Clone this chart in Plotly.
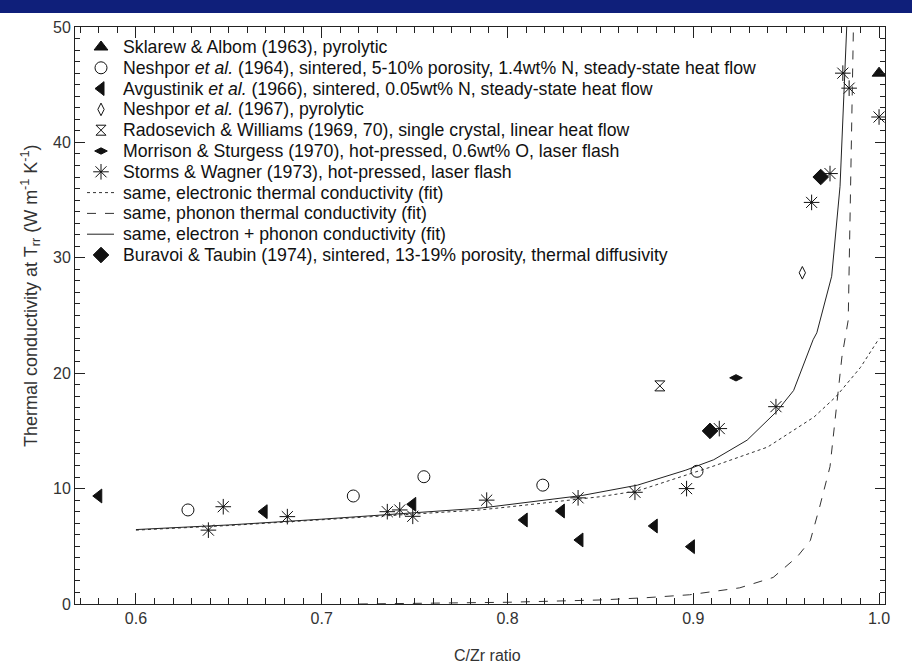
import plotly.graph_objects as go

# ---------------- data ----------------
sklarew_x = [1.0]
sklarew_y = [46.0]

neshpor64_x = [0.628, 0.717, 0.755, 0.819, 0.902]
neshpor64_y = [8.15, 9.36, 11.03, 10.3, 11.5]

avgustinik_x = [0.580, 0.669, 0.749, 0.809, 0.829, 0.839, 0.879, 0.899]
avgustinik_y = [9.36, 8.0, 8.64, 7.28, 8.06, 5.55, 6.76, 4.97]

neshpor67_x = [0.9587]
neshpor67_y = [28.7]

radosevich_x = [0.882]
radosevich_y = [18.9]

morrison_x = [0.923]
morrison_y = [19.6]

storms_x = [0.639, 0.647, 0.6815, 0.7353, 0.742, 0.749, 0.7888, 0.838, 0.8686,
            0.8964, 0.914, 0.9445, 0.9637, 0.9736, 0.9805, 0.9839, 1.0]
storms_y = [6.4, 8.43, 7.57, 8.0, 8.15, 7.6, 9.0, 9.2, 9.68,
            10.0, 15.2, 17.1, 34.8, 37.3, 46.0, 44.7, 42.2]

elec_x = [0.6, 0.65, 0.7, 0.75, 0.785, 0.8, 0.85, 0.87, 0.893, 0.91, 0.94, 0.965, 0.977, 0.99, 1.0]
elec_y = [6.4, 6.8, 7.3, 7.8, 8.15, 8.4, 9.3, 9.8, 11.0, 11.9, 13.6, 16.2, 18.0, 20.5, 23.0]

phonon_x = [0.72, 0.75, 0.8, 0.85, 0.875, 0.898, 0.925, 0.943, 0.956, 0.963, 0.968,
            0.9736, 0.976, 0.98, 0.9834, 0.9847, 0.9862]
phonon_y = [0.0, 0.05, 0.15, 0.35, 0.55, 0.8, 1.4, 2.3, 4.1, 5.5, 8.4,
            11.9, 15.7, 21.4, 24.6, 36.2, 50.0]

total_x = [0.6, 0.65, 0.7, 0.75, 0.785, 0.84, 0.87, 0.896, 0.911, 0.929, 0.945, 0.954,
           0.9645, 0.9665, 0.9745, 0.979, 0.9826]
total_y = [6.45, 6.85, 7.35, 7.9, 8.3, 9.4, 10.3, 11.6, 12.5, 14.2, 16.7, 18.5,
           22.9, 23.5, 28.4, 36.2, 50.0]

buravoi_x = [0.909, 0.9686]
buravoi_y = [15.0, 37.0]

x_ticks = [0.6, 0.7, 0.8, 0.9, 1.0]
x_ticklabels = ["0.6", "0.7", "0.8", "0.9", "1.0"]
y_ticks = [0, 10, 20, 30, 40, 50]
y_ticklabels = ["0", "10", "20", "30", "40", "50"]

legend_names = [
    "Sklarew &amp; Albom (1963), pyrolytic",
    "Neshpor <i>et al.</i> (1964), sintered, 5-10% porosity, 1.4wt% N, steady-state heat flow",
    "Avgustinik <i>et al.</i> (1966), sintered, 0.05wt% N, steady-state heat flow",
    "Neshpor <i>et al.</i> (1967), pyrolytic",
    "Radosevich &amp; Williams (1969, 70), single crystal, linear heat flow",
    "Morrison &amp; Sturgess (1970), hot-pressed, 0.6wt% O, laser flash",
    "Storms &amp; Wagner (1973), hot-pressed, laser flash",
    "same, electronic thermal conductivity (fit)",
    "same, phonon thermal conductivity (fit)",
    "same, electron + phonon conductivity (fit)",
    "Buravoi &amp; Taubin (1974), sintered, 13-19% porosity, thermal diffusivity",
]

# ---------------- styling ----------------
BLK = "#111111"
FONT = "Liberation Sans, Arial, sans-serif"
W, H = 912, 671
ML, MR, MT, MB = 75, 27, 27, 67
PW, PH = W - ML - MR, H - MT - MB

def mk(symbol, size, lw=1):
    return dict(symbol=symbol, size=size, color=BLK, line=dict(color=BLK, width=lw))

series = [
    ("m", sklarew_x, sklarew_y, mk("triangle-up", 12)),
    ("m", neshpor64_x, neshpor64_y, mk("circle-open", 12)),
    ("m", avgustinik_x, avgustinik_y, mk("triangle-left", 12)),
    ("m", neshpor67_x, neshpor67_y, mk("diamond-tall-open", 9)),
    ("m", radosevich_x, radosevich_y, mk("hourglass-open", 10)),
    ("m", morrison_x, morrison_y, mk("diamond-wide", 9)),
    ("m", storms_x, storms_y, mk("asterisk-open", 13)),
    ("l", elec_x, elec_y, dict(color="#333333", width=1, dash="dot")),
    ("l", phonon_x, phonon_y, dict(color="#333333", width=1, dash="dash")),
    ("l", total_x, total_y, dict(color="#222222", width=1, dash="solid")),
    ("m", buravoi_x, buravoi_y, mk("diamond", 12)),
]

fig = go.Figure()

for (kind, x, y, st), name in zip(series, legend_names):
    if kind == "m":
        fig.add_trace(go.Scatter(x=x, y=y, mode="markers", name=name,
                                 marker=st, showlegend=False))
    else:
        fig.add_trace(go.Scatter(x=x, y=y, mode="lines", name=name,
                                 line=st, showlegend=False))

# ---------------- hand-built legend (pixel-space overlay axes) ----------------
LEG_TOP = 47.0      # centre of first row, px from top of page
LEG_STEP = 20.8     # row spacing, px
LEG_SYM_X = 101.0   # symbol centre, px from left of page
LEG_TXT_X = 121.0   # text start, px from left of page
annotations = []
for i, ((kind, _, _, st), name) in enumerate(zip(series, legend_names)):
    ry = LEG_TOP + i * LEG_STEP
    if kind == "m":
        fig.add_trace(go.Scatter(x=[LEG_SYM_X], y=[ry], xaxis="x2", yaxis="y2",
                                 mode="markers", marker=st, showlegend=False,
                                 hoverinfo="skip"))
    else:
        fig.add_trace(go.Scatter(x=[LEG_SYM_X - 14, LEG_SYM_X + 13], y=[ry, ry],
                                 xaxis="x2", yaxis="y2", mode="lines", line=st,
                                 showlegend=False, hoverinfo="skip"))
    annotations.append(dict(x=LEG_TXT_X, y=ry, xref="x2", yref="y2", text=name,
                            showarrow=False, xanchor="left", yanchor="middle",
                            font=dict(size=17.7, color=BLK, family=FONT)))

# axis titles
annotations.append(dict(
    x=(30 - ML) / PW, y=(H - MB - 296) / PH, xref="paper", yref="paper",
    text="Thermal conductivity at T<sub>rr</sub> (W m<sup>-1</sup> K<sup>-1</sup>)",
    textangle=-90, showarrow=False, xanchor="center", yanchor="middle",
    font=dict(size=18, color="#333333", family=FONT)))
annotations.append(dict(
    x=(487 - ML) / PW, y=(H - MB - 655) / PH, xref="paper", yref="paper",
    text="C/Zr ratio", showarrow=False, xanchor="center", yanchor="middle",
    font=dict(size=16, color="#333333", family=FONT)))

axis_common = dict(ticks="inside", tickwidth=1, tickcolor="#222222",
                   showline=True, linecolor="#222222", linewidth=1, mirror="ticks",
                   showgrid=False, zeroline=False, automargin=False,
                   tickfont=dict(size=16, color="#333333", family=FONT))

fig.update_layout(
    width=W, height=H,
    margin=dict(l=ML, r=MR, t=MT, b=MB),
    paper_bgcolor="white", plot_bgcolor="white",
    font=dict(family=FONT, size=16, color="#222222"),
    showlegend=False,
    xaxis=dict(range=[0.5672, 1.0032], tickvals=x_ticks, ticktext=x_ticklabels,
               ticklen=11,
               minor=dict(dtick=0.01, tick0=0.6, ticks="inside", ticklen=6,
                          tickcolor="#222222", showgrid=False),
               **axis_common),
    yaxis=dict(range=[0, 50], tickvals=y_ticks, ticktext=y_ticklabels,
               ticklen=10,
               minor=dict(dtick=1, tick0=0, ticks="inside", ticklen=5,
                          tickcolor="#222222", showgrid=False),
               **axis_common),
    xaxis2=dict(overlaying="x", range=[ML, W - MR], visible=False, anchor="y2",
                fixedrange=True),
    yaxis2=dict(overlaying="y", range=[H - MB, MT], visible=False, anchor="x2",
                fixedrange=True),
    annotations=annotations,
)

# dark banner across the top of the page
fig.add_shape(type="rect", xref="paper", yref="paper",
              x0=-ML / PW, x1=(W - ML) / PW,
              y0=1 + 14 / PH, y1=1 + MT / PH,
              fillcolor="#0f1f7a", line=dict(width=0), layer="above")

# remove the browser's default page margin so the figure sits at the page corner
fig.write_html("out.html",
               config={"displayModeBar": False},
               post_script="document.body.style.margin='0px';"
                           "document.body.style.padding='0px';")
